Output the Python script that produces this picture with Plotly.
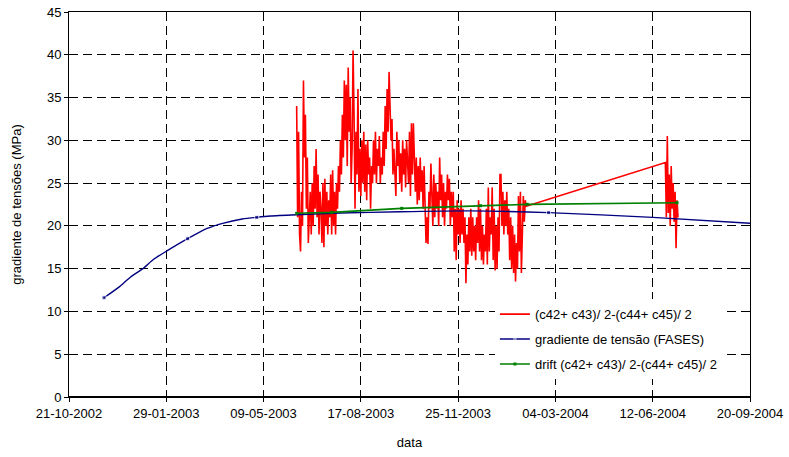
import plotly.graph_objects as go
import pandas as pd

# ---------------- data ----------------
tick_dates = ["2002-10-21", "2003-01-29", "2003-05-09", "2003-08-17",
              "2003-11-25", "2004-03-04", "2004-06-12", "2004-09-20"]
tick_labels = ["21-10-2002", "29-01-2003", "09-05-2003", "17-08-2003",
               "25-11-2003", "04-03-2004", "12-06-2004", "20-09-2004"]

# red series (c42+c43)/2-(c44+c45)/2 : daily readings
red_start_1 = "2003-06-12"
red_vals_1 = [
    34, 21, 31, 19, 17, 24, 20, 37, 28, 33,
    22, 28, 18, 21, 24, 19, 25, 20, 27, 22,
    29, 21, 26, 19, 24, 22, 18, 25, 17.5, 25.5,
    20, 24, 19, 23, 21, 26, 19, 26.5, 20, 24,
    19, 25, 22, 27, 24, 30, 26, 33, 28, 37,
    30, 36.5, 27, 38.5, 31, 35, 25, 29, 40.5, 33,
    22, 31, 26, 36, 24, 29, 23.5, 30, 25, 31,
    24, 29.5, 23, 30, 26, 28, 22, 27, 25, 30,
    26, 31, 25, 29, 27, 30.5, 25, 28, 26, 31,
    27, 34, 29, 36, 31, 38, 33, 30, 32.5, 26,
    29, 25, 23.5, 31, 27, 30, 25, 28.5, 24, 30,
    26, 29, 24.5, 30, 27, 25, 31, 23.5, 32, 26,
    32, 27, 24, 28, 22.5, 27, 23, 28, 24, 26.5,
    22, 27, 23, 18, 21, 17.9, 24, 22, 27.3, 23,
    20, 26, 21, 25, 22, 24, 20, 28, 23, 26,
    21, 25, 20, 24, 22, 26, 23, 25.5, 20, 24,
    21, 24, 17, 22, 16, 23, 19, 22, 18, 23,
    19, 22, 18, 21, 13.3, 19, 15.5, 21, 17, 22,
    16.5, 21, 17, 20, 16, 21, 18, 23, 17, 22,
    16, 20, 15.5, 19, 17, 22, 15.5, 24.5, 17, 21,
    19, 24.5, 16, 22, 14.8, 20, 15, 21, 17, 26,
    26, 20, 24, 19, 23, 20, 24, 19, 22, 16,
    21, 15, 20, 14.5, 19, 13.5, 18, 15, 23.5, 17,
    24, 14.5, 20, 23.5, 20.5, 23, 22.3,
]
red_start_2 = "2004-06-25"
red_vals_2 = [27.4, 21, 30.5, 21.5, 26, 20, 27, 22, 25, 20.5, 24, 17.4, 23, 21]

# blue series: gradiente de tensão (FASES)
blue_dates = ["2002-11-26", "2002-12-12", "2002-12-23", "2003-01-05", "2003-01-16",
              "2003-01-30", "2003-02-20", "2003-03-12", "2003-03-28", "2003-04-17",
              "2003-05-02", "2003-05-16", "2003-06-12", "2003-07-27", "2003-09-26",
              "2003-12-07", "2004-02-26", "2004-06-12", "2004-09-20"]
blue_vals = [11.6, 12.9, 14.0, 15.0, 16.1,
             17.1, 18.5, 19.7, 20.3, 20.8,
             21.0, 21.15, 21.3, 21.5, 21.65,
             21.75, 21.55, 21.0, 20.3]
blue_marked = [1, 0, 0, 0, 0, 0, 1, 0, 0, 0, 1, 0, 0, 0, 0, 0, 1, 0, 0]

# green series: drift
green_dates = ["2003-06-12", "2003-07-18", "2003-09-28", "2003-12-18", "2004-02-04", "2004-07-07"]
green_vals = [21.47, 21.58, 22.05, 22.36, 22.52, 22.71]

names = ["(c42+ c43)/ 2-(c44+ c45)/ 2",
         "gradiente de tensão (FASES)",
         "drift (c42+ c43)/ 2-(c44+ c45)/ 2"]

# ---------------- build ----------------
red_x = list(pd.date_range(red_start_1, periods=len(red_vals_1), freq="D")) + \
        list(pd.date_range(red_start_2, periods=len(red_vals_2), freq="D"))
red_y = red_vals_1 + red_vals_2

FONT = "Liberation Sans, Arial, sans-serif"

fig = go.Figure()
fig.add_trace(go.Scatter(x=red_x, y=red_y, mode="lines", name=names[0],
                         line=dict(color="#FF0000", width=1.6), legendgroup="a"))
fig.add_trace(go.Scatter(x=blue_dates, y=blue_vals, mode="lines+markers", name=names[1],
                         line=dict(color="#000080", width=1.4, shape="spline", smoothing=0.6),
                         marker=dict(color="#000080", symbol="square",
                                     size=[4 if m else 0 for m in blue_marked]),
                         legendgroup="b"))
fig.add_trace(go.Scatter(x=green_dates, y=green_vals, mode="lines+markers", name=names[2],
                         line=dict(color="#008000", width=1.6),
                         marker=dict(color="#008000", symbol="square", size=3),
                         legendgroup="c"))

grid = dict(showgrid=True, gridcolor="#000000", gridwidth=1, griddash="9px,5px")

fig.update_layout(
    width=789, height=457,
    margin=dict(l=69, r=39, t=12, b=60, autoexpand=False),
    paper_bgcolor="white", plot_bgcolor="white",
    font=dict(family=FONT, size=13, color="#000000"),
    showlegend=True,
    legend=dict(x=0.6254, y=0.254, xanchor="left", yanchor="top",
                bgcolor="white", borderwidth=0, font=dict(size=13, family=FONT),
                traceorder="grouped", tracegroupgap=5),
    xaxis=dict(range=[tick_dates[0], tick_dates[-1]], type="date",
               tickvals=tick_dates, ticktext=tick_labels,
               ticks="outside", ticklen=4, tickcolor="#000000",
               showline=True, linecolor="#000000", linewidth=1, mirror=True,
               zeroline=False, automargin=False,
               title=dict(text="data", font=dict(size=13, family=FONT), standoff=18),
               **grid),
    yaxis=dict(range=[0, 45], tickvals=list(range(0, 46, 5)),
               ticks="outside", ticklen=4, tickcolor="#000000",
               showline=True, linecolor="#000000", linewidth=1, mirror=True,
               zeroline=False, automargin=False,
               title=dict(text="gradiente de tensões (MPa)", font=dict(size=13, family=FONT), standoff=22),
               **grid),
)
# heavier baseline at y=0
fig.add_shape(type="line", xref="paper", yref="y", x0=0, x1=1, y0=0, y1=0,
              line=dict(color="#000000", width=2))

# remove the default page margin so the figure fills the window exactly
fig.write_html("out.html", config={"displayModeBar": False},
               post_script="document.body.style.margin='0';")
